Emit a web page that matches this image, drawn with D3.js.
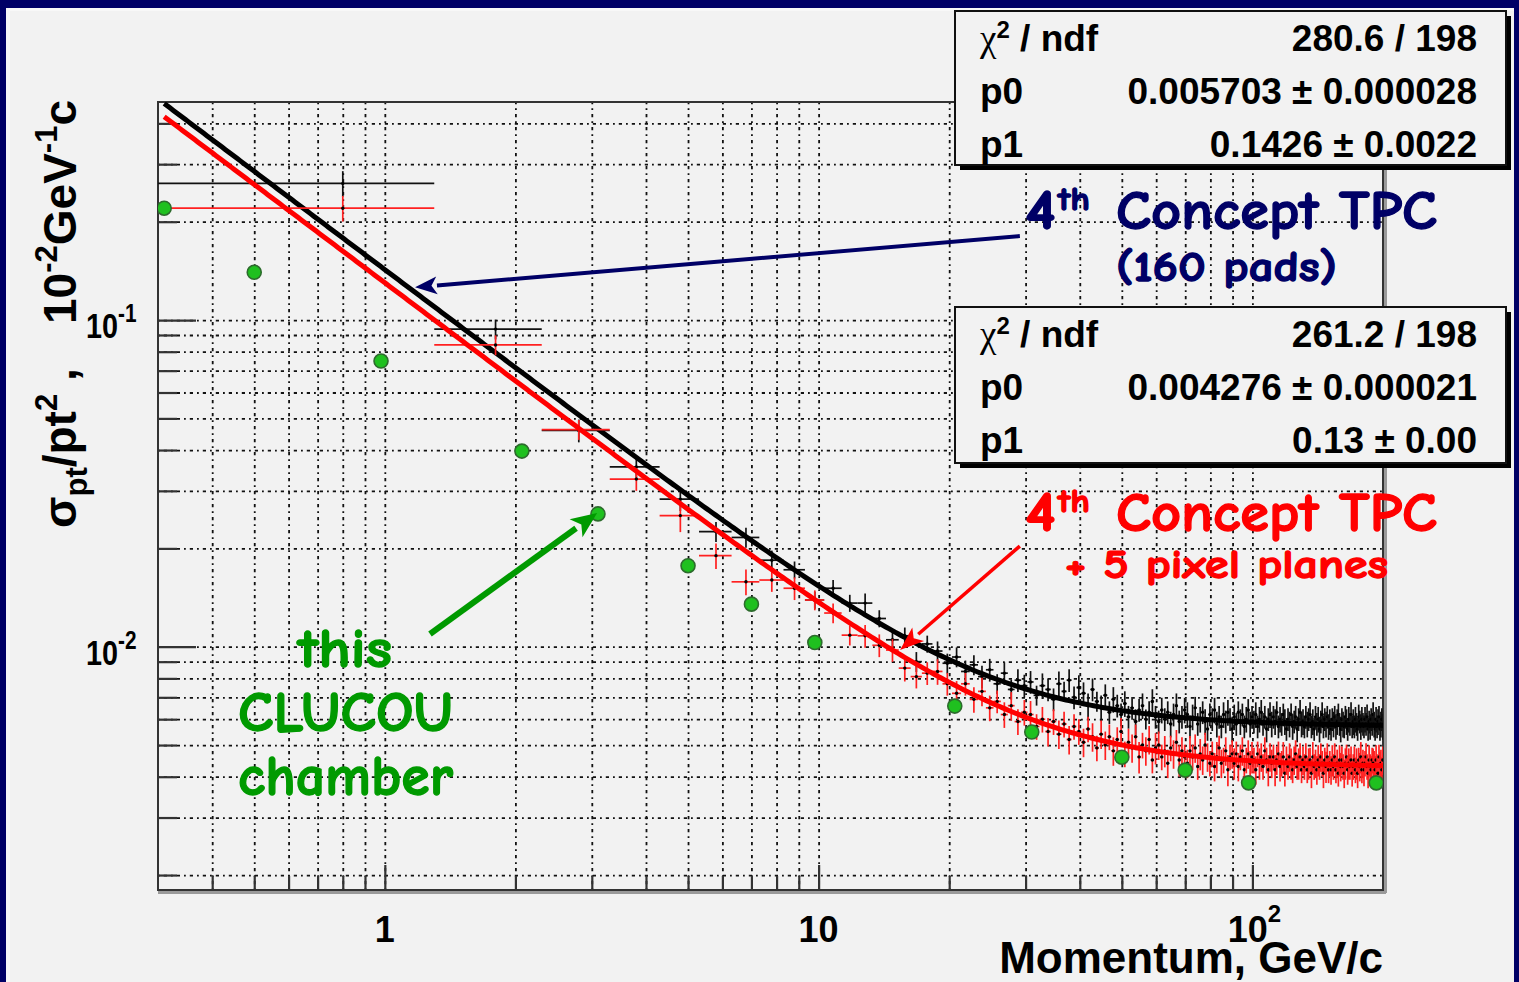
<!DOCTYPE html>
<html>
<head>
<meta charset="utf-8">
<script src="https://cdn.jsdelivr.net/npm/d3@7"></script>
<style>
  body { margin: 0; background: #000066; }
  svg { display: block; }
</style>
</head>
<body>
<svg id="chart" width="1519" height="982"></svg>
<script>
// ---------------- data ----------------
// Histograms: 200 bins of 1 GeV/c starting at 0.3 GeV/c (bin centres 0.8, 1.8, ... 199.8)
const binStart = 0.3;
const binWidth = 1;

// 4th Concept TPC (160 pads): sigma_pt/pt^2 per bin
const tpcValues = [
  0.262, 0.0938, 0.0459, 0.0355, 0.0283, 0.0225, 0.0216, 0.0184, 0.0172, 0.0139,
  0.0151, 0.0136, 0.0136, 0.0122, 0.0105, 0.0108, 0.0090, 0.0102, 0.0097, 0.0089,
  0.0093, 0.0084, 0.0088, 0.0081, 0.0085, 0.0077, 0.0083, 0.0074, 0.0079, 0.0076,
  0.0078, 0.0071, 0.0076, 0.0074, 0.0069, 0.0077, 0.0073, 0.0079, 0.0070, 0.0075,
  0.0072, 0.0066, 0.0074, 0.0068, 0.0065, 0.0071, 0.0063, 0.0069, 0.0066, 0.0062,
  0.0067, 0.0061, 0.0065, 0.0059, 0.0064, 0.0066, 0.0060, 0.0063, 0.0068, 0.0061,
  0.0059, 0.0064, 0.0060, 0.0063, 0.0058, 0.0062, 0.0066, 0.0059, 0.0061, 0.0064,
  0.0062, 0.0057, 0.0061, 0.0065, 0.0058, 0.0060, 0.0063, 0.0059, 0.0056, 0.0062,
  0.0060, 0.0064, 0.0058, 0.0061, 0.0057, 0.0062, 0.0059, 0.0063, 0.0060, 0.0056,
  0.0061, 0.0058, 0.0063, 0.0059, 0.0062, 0.0057, 0.0060, 0.0064, 0.0058, 0.0061,
  0.0059, 0.0062, 0.0057, 0.0060, 0.0063, 0.0058, 0.0061, 0.0056, 0.0060, 0.0062,
  0.0058, 0.0061, 0.0059, 0.0063, 0.0057, 0.0060, 0.0058, 0.0062, 0.0059, 0.0056,
  0.0060, 0.0058, 0.0062, 0.0057, 0.0059, 0.0061, 0.0056, 0.0060, 0.0063, 0.0058,
  0.0059, 0.0057, 0.0061, 0.0058, 0.0060, 0.0062, 0.0057, 0.0059, 0.0056, 0.0061,
  0.0058, 0.0060, 0.0056, 0.0059, 0.0062, 0.0057, 0.0060, 0.0058, 0.0061, 0.0057,
  0.0059, 0.0056, 0.0060, 0.0058, 0.0061, 0.0057, 0.0059, 0.0062, 0.0058, 0.0056,
  0.0060, 0.0058, 0.0057, 0.0061, 0.0059, 0.0056, 0.0060, 0.0058, 0.0062, 0.0057,
  0.0059, 0.0057, 0.0060, 0.0058, 0.0056, 0.0061, 0.0059, 0.0057, 0.0060, 0.0058,
  0.0057, 0.0060, 0.0058, 0.0061, 0.0056, 0.0059, 0.0057, 0.0060, 0.0058, 0.0062,
  0.0058, 0.0056, 0.0060, 0.0057, 0.0059, 0.0061, 0.0056, 0.0058, 0.0060, 0.0057
];
// relative error of each bin, percent
const tpcErrPct = [
  9,7,8,7,8,7,7,7,6,6, 6,6,7,6,7,6,7,6,7,7, 7,8,7,8,8,7,8,7,8,8, 8,7,9,8,8,9,7,8,8,9,
  8,9,8,7,9,8,8,9,8,8, 9,8,8,9,8,9,7,8,9,8, 8,9,8,8,9,8,9,8,8,9, 9,8,9,8,8,9,8,9,8,8,
  8,9,9,8,8,9,8,9,8,9, 9,8,8,9,8,8,9,8,9,8, 8,9,8,9,9,8,8,9,8,9, 9,8,9,8,8,9,8,8,9,8,
  8,9,8,9,8,8,9,8,9,9, 9,8,8,9,8,9,8,9,8,8, 8,9,9,8,9,8,8,9,8,9, 9,8,8,9,8,9,9,8,8,9,
  8,9,8,8,9,8,9,8,9,8, 9,8,9,8,8,9,8,9,9,8, 8,9,8,9,8,8,9,8,8,9, 9,8,9,8,9,8,8,9,8,9
];

// 4th Concept TPC + 5 pixel planes
const pixelValues = [
  0.220, 0.0839, 0.0462, 0.0326, 0.0252, 0.0190, 0.0158, 0.0160, 0.0151, 0.0139,
  0.01268, 0.01085, 0.0108, 0.0101, 0.00977, 0.0086, 0.0081, 0.0083, 0.0084, 0.0077,
  0.0072, 0.0077, 0.0069, 0.0073, 0.0065, 0.0068, 0.0062, 0.0066, 0.0059, 0.0063,
  0.0062, 0.0057, 0.0060, 0.0055, 0.0059, 0.0054, 0.0058, 0.0052, 0.0057, 0.0055,
  0.0051, 0.0056, 0.0053, 0.0049, 0.0054, 0.0050, 0.0053, 0.0048, 0.0052, 0.0055,
  0.0047, 0.0051, 0.0049, 0.0053, 0.0046, 0.0050, 0.0048, 0.0052, 0.0045, 0.0049,
  0.0050, 0.0046, 0.0048, 0.0044, 0.0049, 0.0047, 0.0051, 0.0045, 0.0048, 0.0046,
  0.0044, 0.0048, 0.0046, 0.0049, 0.0043, 0.0047, 0.0045, 0.0050, 0.0046, 0.0044,
  0.0047, 0.0043, 0.0046, 0.0049, 0.0044, 0.0045, 0.0048, 0.0042, 0.0046, 0.0047,
  0.0044, 0.0047, 0.0043, 0.0046, 0.0048, 0.0042, 0.0045, 0.0047, 0.0044, 0.0046,
  0.0045, 0.0042, 0.0047, 0.0044, 0.0046, 0.0043, 0.0048, 0.0045, 0.0042, 0.0046,
  0.0044, 0.0046, 0.0042, 0.0045, 0.0047, 0.0043, 0.0044, 0.0046, 0.0041, 0.0045,
  0.0043, 0.0046, 0.0044, 0.0042, 0.0045, 0.0047, 0.0043, 0.0044, 0.0046, 0.0042,
  0.0045, 0.0043, 0.0046, 0.0042, 0.0044, 0.0045, 0.0041, 0.0046, 0.0043, 0.0044,
  0.0042, 0.0045, 0.0043, 0.0046, 0.0044, 0.0041, 0.0045, 0.0043, 0.0046, 0.0042,
  0.0044, 0.0042, 0.0045, 0.0043, 0.0046, 0.0042, 0.0044, 0.0041, 0.0045, 0.0043,
  0.0045, 0.0043, 0.0041, 0.0044, 0.0046, 0.0042, 0.0044, 0.0043, 0.0045, 0.0041,
  0.0043, 0.0045, 0.0042, 0.0044, 0.0041, 0.0045, 0.0043, 0.0046, 0.0042, 0.0044,
  0.0042, 0.0044, 0.0046, 0.0043, 0.0041, 0.0045, 0.0043, 0.0042, 0.0045, 0.0044,
  0.0044, 0.0042, 0.0045, 0.0043, 0.0041, 0.0046, 0.0043, 0.0044, 0.0042, 0.0045
];
const pixelErrPct = [
  9,7,7,8,11,9,9,8,8,7, 7,7,8,8,8,9,8,8,9,8, 9,8,9,10,9,8,9,10,9,9, 10,9,9,10,9,10,9,10,9,9,
  10,9,10,9,10,10,9,10,9,10, 9,10,10,9,11,9,10,10,9,11, 10,9,11,10,9,10,9,11,10,9, 10,11,9,10,9,11,10,9,10,9,
  9,10,11,9,10,9,10,11,9,10, 11,9,10,9,10,11,9,10,9,11, 9,10,9,11,10,9,10,9,11,10, 10,9,11,10,9,10,9,11,9,10,
  9,10,11,9,10,10,9,11,10,9, 10,9,10,9,11,9,10,11,9,10, 10,11,9,10,9,10,9,11,10,9, 9,10,11,9,10,9,10,9,11,10,
  10,9,10,11,9,10,11,9,10,9, 9,10,9,11,10,9,10,11,9,10, 11,9,10,9,10,11,9,10,9,11, 9,10,11,9,10,9,11,10,9,10
];

// CLUCOU chamber points
const clucouMomentum   = [0.31, 0.5, 0.98, 2.07, 3.1, 5, 7, 9.8, 20.6, 31, 50, 70, 98, 193];
const clucouResolution = [0.220, 0.140, 0.0749, 0.0397, 0.0255, 0.0177, 0.0135, 0.0103,
                          0.00658, 0.00548, 0.00459, 0.00419, 0.00383, 0.00383];

// Fit results  sigma = sqrt(p0^2 + (p1/p)^2)   [TPC, TPC + pixels]
const fitChi2 = ["280.6", "261.2"];
const fitNdf  = ["198", "198"];
const fitP0    = [0.005703, 0.004276];
const fitP0Err = ["0.000028", "0.000021"];
const fitP1    = [0.1426, 0.13];
const fitP1Err = ["0.0022", "0.00"];
const fitP1Text = ["0.1426", "0.13"];

// Axis ticks
const xMajorTicks = [1, 10, 100];
const xMajorBase  = ["1", "10", "10"];
const xMajorExp   = ["", "", "2"];
const xMinorTicks = [0.4,0.5,0.6,0.7,0.8,0.9, 2,3,4,5,6,7,8,9, 20,30,40,50,60,70,80,90];
const yMajorTicks = [0.1, 0.01];
const yMajorBase  = ["10", "10"];
const yMajorExp   = ["-1", "-2"];
const yMinorTicks = [0.002,0.003,0.004,0.005,0.006,0.007,0.008,0.009,
                     0.02,0.03,0.04,0.05,0.06,0.07,0.08,0.09, 0.2,0.3,0.4];

// ---------------- drawing ----------------
const svg = d3.select("#chart");
const W = 1519, H = 982;
const AXIS_FONT = "'Liberation Sans', Arial, Helvetica, sans-serif";
const HAND_FONT = "'Comic Sans MS', 'Comic Neue', Lato, 'Noto Sans', sans-serif";
const NAVY = "#000066", RED = "#ff0000", GREEN = "#009a00";

// slide background
svg.append("rect").attr("width", W).attr("height", H).attr("fill", NAVY);
svg.append("rect").attr("x", 6).attr("y", 8).attr("width", W - 11).attr("height", H - 8).attr("fill", "#f8f8f8");
svg.append("rect").attr("x", 10).attr("y", 11).attr("width", W - 15).attr("height", H - 11).attr("fill", "#f2f2f2");

const frame = { l: 158, t: 102, r: 1383, b: 890 };
const x = d3.scaleLog().domain([0.3, 200]).range([frame.l, frame.r]);
const y = d3.scaleLog().domain([0.0018, 0.465]).range([frame.b, frame.t]);

svg.append("defs").append("clipPath").attr("id", "plotClip")
  .append("rect").attr("x", frame.l).attr("y", frame.t)
  .attr("width", frame.r - frame.l).attr("height", frame.b - frame.t);

// grid (dash-dot lines at every tick)
function styleGrid(g) {
  g.select(".domain").remove();
  g.selectAll("line").attr("stroke", "#111").attr("stroke-width", 1.8)
    .attr("stroke-dasharray", "1.8,4,3.2,4");
}
svg.append("g").attr("transform", `translate(0,${frame.b})`)
  .call(d3.axisBottom(x).tickValues(xMajorTicks.concat(xMinorTicks))
    .tickSize(-(frame.b - frame.t)).tickFormat(""))
  .call(styleGrid);
svg.append("g").attr("transform", `translate(${frame.l},0)`)
  .call(d3.axisLeft(y).tickValues(yMajorTicks.concat(yMinorTicks))
    .tickSize(-(frame.r - frame.l)).tickFormat(""))
  .call(styleGrid);

// tick marks
function styleTicks(g) {
  g.select(".domain").remove();
  g.selectAll("line").attr("stroke", "#333").attr("stroke-width", 2.2);
}
svg.append("g").attr("transform", `translate(${frame.l},0)`)
  .call(d3.axisLeft(y).tickValues(yMinorTicks).tickSize(-19).tickFormat("")).call(styleTicks);
svg.append("g").attr("transform", `translate(${frame.l},0)`)
  .call(d3.axisLeft(y).tickValues(yMajorTicks).tickSize(-38).tickFormat("")).call(styleTicks);
svg.append("g").attr("transform", `translate(0,${frame.b})`)
  .call(d3.axisBottom(x).tickValues(xMinorTicks).tickSize(-14).tickFormat("")).call(styleTicks);
svg.append("g").attr("transform", `translate(0,${frame.b})`)
  .call(d3.axisBottom(x).tickValues(xMajorTicks).tickSize(-25).tickFormat("")).call(styleTicks);

// frame with shaded bottom/right edges
svg.append("line").attr("x1", frame.l).attr("x2", frame.r + 3).attr("y1", frame.b + 2.5).attr("y2", frame.b + 2.5)
  .attr("stroke", "#9a9a9a").attr("stroke-width", 3);
svg.append("line").attr("x1", frame.r + 2.5).attr("x2", frame.r + 2.5).attr("y1", frame.t).attr("y2", frame.b + 3)
  .attr("stroke", "#9a9a9a").attr("stroke-width", 3);
svg.append("rect").attr("x", frame.l).attr("y", frame.t)
  .attr("width", frame.r - frame.l).attr("height", frame.b - frame.t)
  .attr("fill", "none").attr("stroke", "#333").attr("stroke-width", 2);

// tick labels
const xl = svg.append("g").attr("font-family", AXIS_FONT).attr("font-weight", "bold").attr("fill", "#000");
xMajorTicks.forEach((v, i) => {
  const t = xl.append("text").attr("x", x(v) + (xMajorExp[i] ? 2 : 0)).attr("y", 942)
    .attr("text-anchor", "middle").attr("font-size", 36).text(xMajorBase[i]);
  if (xMajorExp[i]) t.append("tspan").attr("dy", -20).attr("font-size", 24).text(xMajorExp[i]);
});
yMajorTicks.forEach((v, i) => {
  const t = xl.append("text")
    .attr("transform", `translate(86,${y(v) + 18}) scale(0.8,1)`)
    .attr("font-size", 36).text(yMajorBase[i]);
  t.append("tspan").attr("dy", -16).attr("font-size", 26).text(yMajorExp[i]);
});

// axis titles
xl.append("text").attr("x", frame.r).attr("y", 973).attr("text-anchor", "end")
  .attr("font-size", 44).text("Momentum, GeV/c");

const yt = xl.append("g").attr("transform", "translate(76,0) rotate(-90)");
const ytA = yt.append("text").attr("x", -528).attr("y", 0).attr("font-size", 46).text("σ");
ytA.append("tspan").attr("dy", 11).attr("font-size", 31).text("pt");
ytA.append("tspan").attr("dy", -11).text("/pt");
ytA.append("tspan").attr("dy", -19).attr("font-size", 31).text("2");
ytA.append("tspan").attr("dy", 19).text(" ,");
const ytB = yt.append("text").attr("x", -100).attr("y", 0).attr("text-anchor", "end").attr("font-size", 46).text("10");
ytB.append("tspan").attr("dy", -19).attr("font-size", 31).text("-2");
ytB.append("tspan").attr("dy", 19).text("GeV");
ytB.append("tspan").attr("dy", -19).attr("font-size", 31).text("-1");
ytB.append("tspan").attr("dy", 19).text("c");

// data layer
const plot = svg.append("g").attr("clip-path", "url(#plotClip)");

function drawHistogram(values, errPct, color) {
  const g = plot.append("g");
  values.forEach((v, i) => {
    const lo = binStart + i * binWidth, hi = lo + binWidth, c = lo + binWidth / 2;
    const e = errPct[i] / 100;
    g.append("line").attr("x1", x(lo)).attr("x2", x(hi)).attr("y1", y(v)).attr("y2", y(v))
      .attr("stroke", color).attr("stroke-width", 1.7);
    g.append("line").attr("x1", x(c)).attr("x2", x(c)).attr("y1", y(v * (1 + e))).attr("y2", y(v * (1 - e)))
      .attr("stroke", color).attr("stroke-width", 1.7);
    g.append("circle").attr("cx", x(c)).attr("cy", y(v)).attr("r", 1.7).attr("fill", "#000");
  });
}
function drawFit(k, color) {
  const p0 = fitP0[k], p1 = fitP1[k];
  const pts = d3.range(0, 401).map(j => {
    const p = 0.31 * Math.pow(200 / 0.31, j / 400);
    return [p, Math.sqrt(p0 * p0 + (p1 / p) * (p1 / p))];
  });
  plot.append("path").datum(pts)
    .attr("d", d3.line().x(d => x(d[0])).y(d => y(d[1])))
    .attr("fill", "none").attr("stroke", color).attr("stroke-width", 5)
    .attr("stroke-linejoin", "round");
}
drawHistogram(tpcValues, tpcErrPct, "#111");
drawFit(0, "#000");
drawHistogram(pixelValues, pixelErrPct, "#ff2020");
drawFit(1, RED);

plot.append("g").selectAll("circle").data(clucouMomentum).join("circle")
  .attr("cx", d => x(d)).attr("cy", (d, i) => y(clucouResolution[i])).attr("r", 7)
  .attr("fill", "#1fc01f").attr("stroke", "#2d6b2d").attr("stroke-width", 1.6);

// fit statistics boxes
function statsBox(k, bx, by, bw, bh) {
  const g = svg.append("g").attr("font-family", AXIS_FONT).attr("font-weight", "bold");
  g.append("rect").attr("x", bx + 5).attr("y", by + 5).attr("width", bw).attr("height", bh).attr("fill", "#000");
  g.append("rect").attr("x", bx).attr("y", by).attr("width", bw).attr("height", bh)
    .attr("fill", "#f2f2f2").attr("stroke", "#111").attr("stroke-width", 2);
  const left = bx + 25, right = bx + bw - 29;
  const rows = [by + 40, by + 93, by + 146];
  const fs = 37;
  const c = g.append("text").attr("x", left).attr("y", rows[0]).attr("font-size", fs);
  c.append("tspan").attr("font-family", "'Liberation Serif', 'DejaVu Serif', serif").attr("font-weight", "normal").text("χ");
  c.append("tspan").attr("dy", -13).attr("font-size", 24).text("2");
  c.append("tspan").attr("dy", 13).text(" / ndf");
  g.append("text").attr("x", left).attr("y", rows[1]).attr("font-size", fs).text("p0");
  g.append("text").attr("x", left).attr("y", rows[2]).attr("font-size", fs).text("p1");
  g.append("text").attr("x", right).attr("y", rows[0]).attr("text-anchor", "end").attr("font-size", fs)
    .text(`${fitChi2[k]} / ${fitNdf[k]}`);
  g.append("text").attr("x", right).attr("y", rows[1]).attr("text-anchor", "end").attr("font-size", fs)
    .text(`${fitP0[k].toFixed(6)} ± ${fitP0Err[k]}`);
  g.append("text").attr("x", right).attr("y", rows[2]).attr("text-anchor", "end").attr("font-size", fs)
    .text(`${fitP1Text[k]} ± ${fitP1Err[k]}`);
}
statsBox(0, 955, 11, 551, 154);
statsBox(1, 955, 307, 551, 156);

// annotations
function arrow(from, to, color, width, headLen, headHalf) {
  const x1 = x(from[0]), y1 = y(from[1]), x2 = x(to[0]), y2 = y(to[1]);
  const a = Math.atan2(y2 - y1, x2 - x1);
  const bxp = x2 - headLen * Math.cos(a), byp = y2 - headLen * Math.sin(a);
  svg.append("line").attr("x1", x1).attr("y1", y1).attr("x2", bxp).attr("y2", byp)
    .attr("stroke", color).attr("stroke-width", width);
  const px = -Math.sin(a) * headHalf, py = Math.cos(a) * headHalf;
  svg.append("path")
    .attr("d", `M${x2},${y2}L${bxp + px},${byp + py}L${bxp + headLen * 0.25 * Math.cos(a)},${byp + headLen * 0.25 * Math.sin(a)}L${bxp - px},${byp - py}Z`)
    .attr("fill", color);
}
arrow([29.1, 0.1807], [1.174, 0.126], NAVY, 4, 22, 9);
arrow([1.271, 0.01094], [3.086, 0.02566], GREEN, 6, 26, 11);
arrow([29.1, 0.02033], [15.41, 0.00977], RED, 3.5, 24, 9);

const ann = svg.append("g").attr("font-family", HAND_FONT).attr("font-weight", "bold");
function hand(txt, x0, y0, size, len, color) {
  return ann.append("text").attr("x", x0).attr("y", y0).attr("font-size", size)
    .attr("fill", color).attr("stroke", color).attr("stroke-width", 1.3)
    .attr("textLength", len).attr("lengthAdjust", "spacingAndGlyphs").text(txt);
}
// 4th Concept TPC (160 pads)
hand("4", 1025, 229, 56, 31, NAVY);
hand("th", 1058, 210, 32, 32, NAVY);
hand("Concept TPC", 1116, 229, 54, 321, NAVY);
hand("(160 pads)", 1116, 281, 42, 221, NAVY);
// 4th Concept TPC + 5 pixel planes
hand("4", 1025, 531, 56, 31, RED);
hand("th", 1058, 512, 32, 32, RED);
hand("Concept TPC", 1116, 531, 54, 321, RED);
hand("+ 5 pixel planes", 1065, 578, 40, 323, RED);
// this CLUCOU chamber
hand("this", 298, 667, 54, 94, GREEN);
hand("CLUCOU", 238, 731, 56, 215, GREEN);
hand("chamber", 238, 795, 56, 215, GREEN);
</script>
</body>
</html>
